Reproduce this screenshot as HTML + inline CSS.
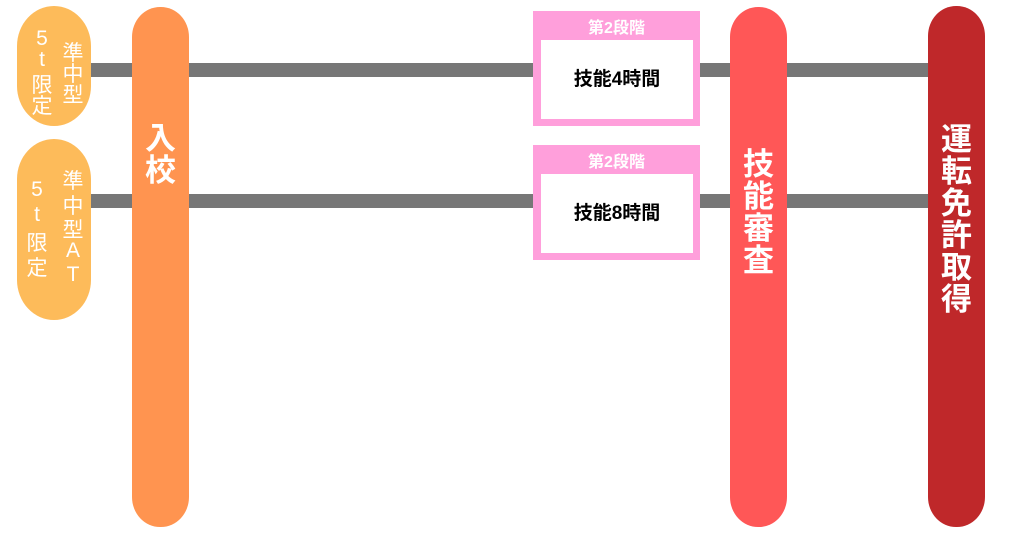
<!DOCTYPE html>
<html><head><meta charset="utf-8"><style>
body{margin:0;width:1015px;height:544px;background:#fff;position:relative;overflow:hidden;font-family:"Liberation Sans","Noto Sans CJK JP",sans-serif}
div{position:absolute;box-sizing:border-box}
span{display:block;text-align:center}
.line{background:#777;height:14px}
.bar{border-radius:28px/30px;color:#fff;font-weight:bold;font-size:31px}
.bar .c{left:0;width:57px}
.bar span{height:32px;line-height:32px}
.pill{background:#fdbb5a;border-radius:37px/40px;color:#fff;font-size:21px}
.pill .c{width:24px}
.pbox{background:#ff9fdb;width:167px;height:115px}
.pbox .h{left:0;top:3px;width:167px;text-align:center;color:#fff;font-weight:bold;font-size:16px}
.pbox .in{left:8px;top:29px;width:152px;height:79px;background:#fff;text-align:center;line-height:79px;font-size:19px;font-weight:bold;color:#000}
</style></head><body>
<div class="line" style="left:90px;top:63px;width:840px"></div>
<div class="line" style="left:90px;top:194px;width:840px"></div>

<div class="pill" style="left:17px;top:6px;width:74px;height:120px">
 <div class="c" style="left:44px;top:31px"><span style="height:21px">準</span><span style="height:21px">中</span><span style="height:21px">型</span></div>
 <div class="c" style="left:13px;top:21px"><span style="height:21px">5</span><span style="height:21px">t</span><span style="height:21px">限</span><span style="height:21px">定</span></div>
</div>
<div class="pill" style="left:17px;top:139px;width:74px;height:181px">
 <div class="c" style="left:44px;top:26px"><span style="height:24.6px">準</span><span style="height:24.6px">中</span><span style="height:24.6px">型</span><span style="height:24.6px">A</span><span style="height:24.6px">T</span></div>
 <div class="c" style="left:8px;top:39px"><span style="height:24.6px">5</span><span style="height:24.6px">t</span><span style="height:24.6px">限</span><span style="height:24.6px">定</span></div>
</div>

<div class="bar" style="left:132px;top:7px;width:57px;height:520px;background:#ff9450"><div class="c" style="top:116px"><span>入</span><span>校</span></div></div>
<div class="bar" style="left:730px;top:7px;width:57px;height:520px;background:#ff5757"><div class="c" style="top:142px"><span>技</span><span>能</span><span>審</span><span>査</span></div></div>
<div class="bar" style="left:928px;top:6px;width:57px;height:521px;background:#bf282a"><div class="c" style="top:118px"><span>運</span><span>転</span><span>免</span><span>許</span><span>取</span><span>得</span></div></div>

<div class="pbox" style="left:533px;top:11px"><div class="h">第2段階</div><div class="in">技能4時間</div></div>
<div class="pbox" style="left:533px;top:145px"><div class="h">第2段階</div><div class="in">技能8時間</div></div>
</body></html>
